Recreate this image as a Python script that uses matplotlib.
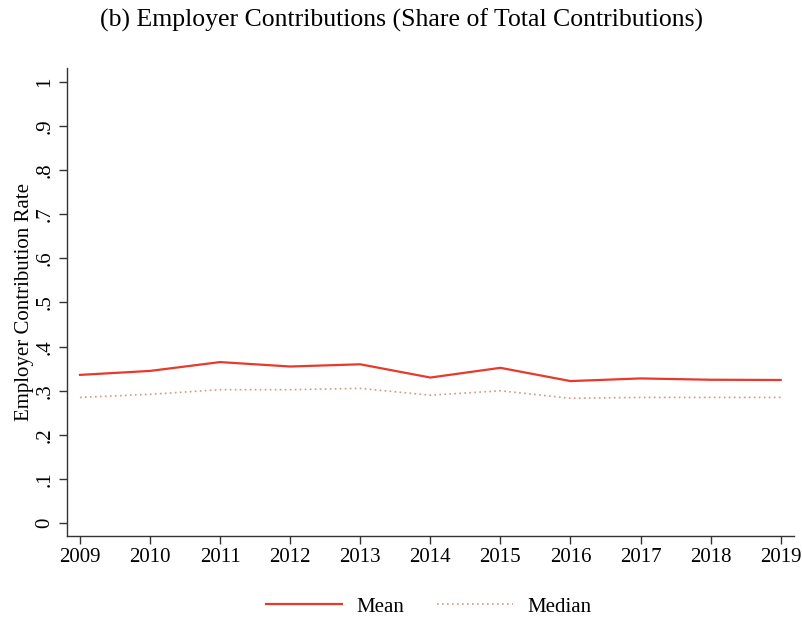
import matplotlib
matplotlib.use("Agg")
import matplotlib.pyplot as plt
from matplotlib.lines import Line2D

years = [2009, 2010, 2011, 2012, 2013, 2014, 2015, 2016, 2017, 2018, 2019]
mean_rate = [0.336, 0.345, 0.365, 0.355, 0.360, 0.330, 0.352, 0.322, 0.328, 0.325, 0.3245]
median_rate = [0.285, 0.292, 0.3025, 0.3025, 0.3055, 0.290, 0.300, 0.283, 0.285, 0.285, 0.285]
yticks = [0, 0.1, 0.2, 0.3, 0.4, 0.5, 0.6, 0.7, 0.8, 0.9, 1.0]
ytick_labels = ["0", ".1", ".2", ".3", ".4", ".5", ".6", ".7", ".8", ".9", "1"]

plt.rcParams['font.family'] = ['Liberation Serif', 'DejaVu Serif']

fig = plt.figure(figsize=(8.03, 6.18), dpi=100)
ax = fig.add_axes([0.083, 0.1327, 0.9058, 0.7573])

mean_color = '#E8392B'
median_color = '#D9967F'
ax.plot(years, mean_rate, color=mean_color, lw=1.6)
ax.plot(years, median_rate, color=median_color, lw=1.2, linestyle=(0, (1, 2)))

ax.set_xlim(2008.81, 2019.19)
ax.set_ylim(-0.0288, 1.031)
ax.set_xticks(years)
ax.set_xticklabels([str(y) for y in years], fontsize=15)
ax.set_yticks(yticks)
ax.set_yticklabels(ytick_labels, fontsize=15, rotation=90, va='center')
ax.tick_params(axis='both', length=6, width=1, color='#333333', pad=3)

for s in ['top', 'right']:
    ax.spines[s].set_visible(False)
for s in ['left', 'bottom']:
    ax.spines[s].set_color('#333333')
    ax.spines[s].set_linewidth(1)

ax.set_ylabel("Employer Contribution Rate", fontsize=15, labelpad=1)
fig.text(0.5, 1 - 20 / 618, "(b) Employer Contributions (Share of Total Contributions)",
         fontsize=18.5, ha='center', va='center')

handles = [Line2D([0], [0], color=mean_color, lw=1.6),
           Line2D([0], [0], color=median_color, lw=1.2, linestyle=(0, (1, 2)))]
fig.legend(handles, ["Mean", "Median"], loc='center', bbox_to_anchor=(0.534, 0.018),
           ncol=2, frameon=False, fontsize=15, handlelength=3.65, columnspacing=1.6,
           handletextpad=0.67, borderpad=0, borderaxespad=0)

fig.savefig("out.png", dpi=100, facecolor='white')
